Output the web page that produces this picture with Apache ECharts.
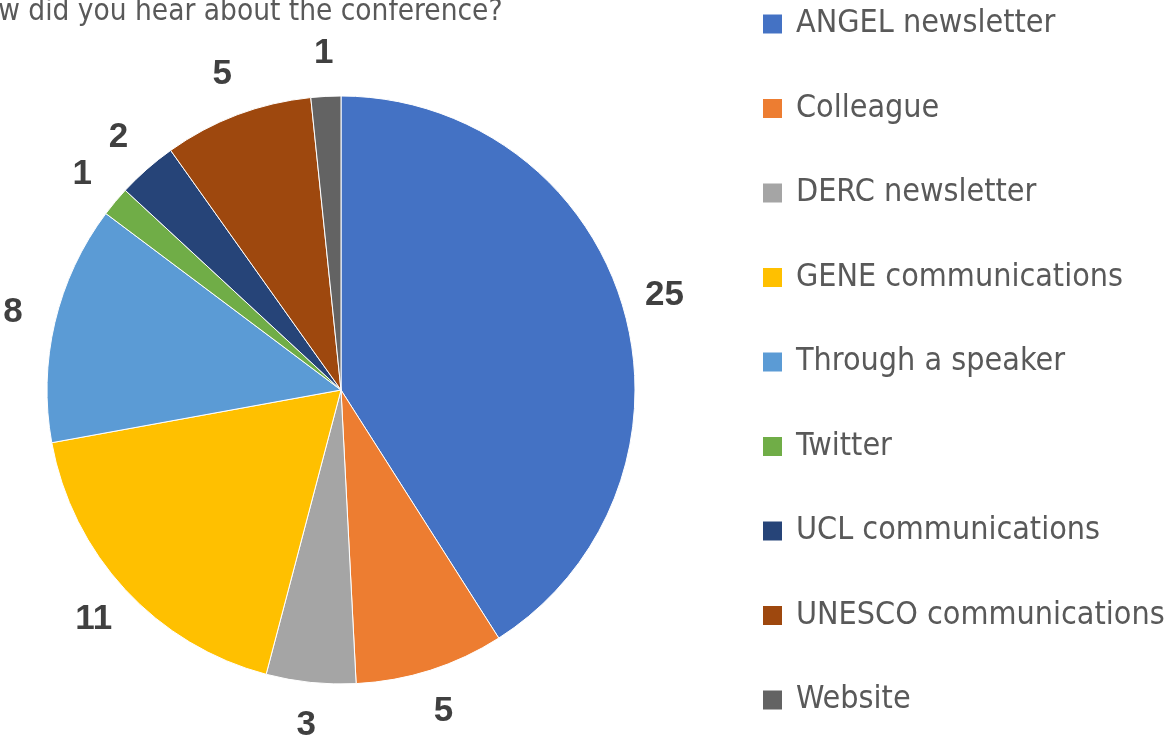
<!DOCTYPE html>
<html>
<head>
<meta charset="utf-8">
<script src="https://cdn.jsdelivr.net/npm/echarts@6/dist/echarts.min.js"></script>
<style>
html,body{margin:0;padding:0;background:#fff;}
#chart{width:1165px;height:740px;}
</style>
</head>
<body>
<div id="chart"></div>
<script>
const titleText = 'How did you hear about the conference?';
const categories = ['ANGEL newsletter','Colleague','DERC newsletter','GENE communications','Through a speaker','Twitter','UCL communications','UNESCO communications','Website'];
const values = [25, 5, 3, 11, 8, 1, 2, 5, 1];
const colors = ['#4472C4','#ED7D31','#A5A5A5','#FFC000','#5B9BD5','#70AD47','#264478','#9E480E','#636363'];

const narrow = "'DejaVu Sans Condensed', 'Liberation Sans Narrow', sans-serif";
const pieData = categories.map((n, i) => ({ name: n, value: values[i], itemStyle: { color: colors[i] } }));
const labelData = categories.map((n, i) => ({ name: n, value: values[i] }));

const chart = echarts.init(document.getElementById('chart'), null, { renderer: 'canvas' });
chart.setOption({
  animation: false,
  backgroundColor: '#ffffff',
  graphic: [{
    type: 'text', left: -38, top: -3,
    style: { text: titleText, font: "29.5px " + narrow, fill: '#595959' }
  }],
  legend: {
    orient: 'vertical', left: 761, top: 8, padding: 0,
    data: categories,
    icon: 'rect', itemWidth: 21, itemHeight: 21, itemGap: 52.5,
    selectedMode: false,
    textStyle: { fontFamily: narrow, fontSize: 32, color: '#595959', padding: [0, 0, 0, 8] }
  },
  series: [{
    type: 'pie',
    center: [341, 390], radius: 294,
    startAngle: 90, clockwise: true,
    data: pieData,
    itemStyle: { borderColor: '#ffffff', borderWidth: 1 },
    label: { show: false }, labelLine: { show: false },
    emphasis: { disabled: true }
  }, {
    type: 'pie',
    center: [341, 390], radius: [294, 374],
    startAngle: 90, clockwise: true,
    silent: true,
    data: labelData,
    itemStyle: { color: 'rgba(0,0,0,0)', borderWidth: 0 },
    label: {
      show: true, position: 'inside', formatter: '{c}',
      fontFamily: "'Liberation Sans', Arial, sans-serif", fontWeight: 'bold', fontSize: 35, color: '#404040'
    },
    labelLine: { show: false },
    emphasis: { disabled: true }
  }]
});
</script>
</body>
</html>
